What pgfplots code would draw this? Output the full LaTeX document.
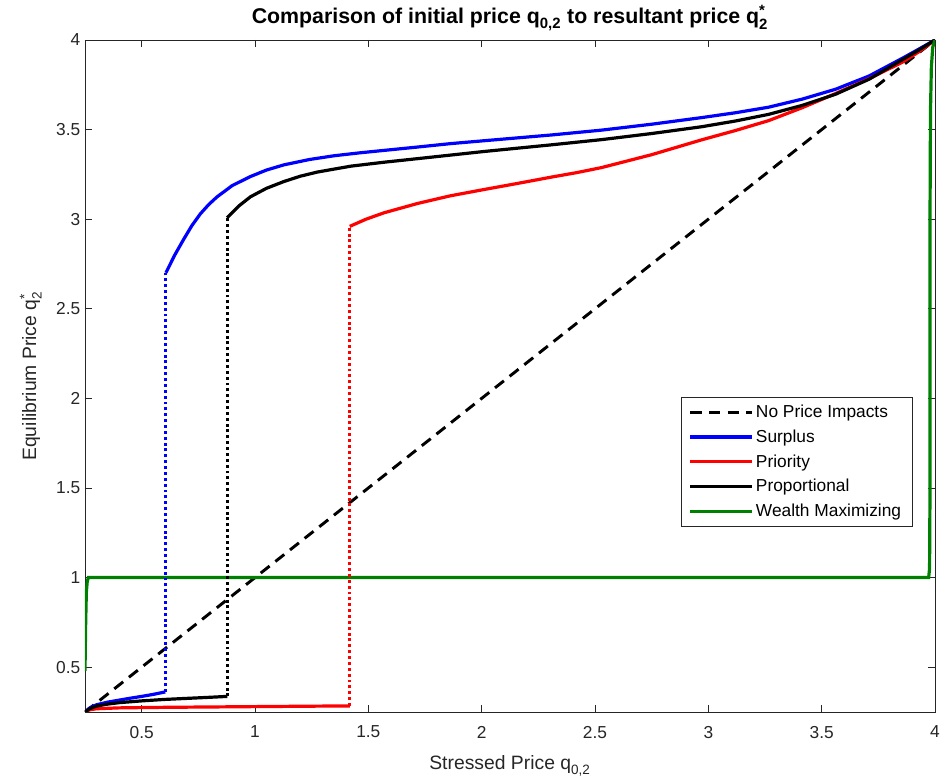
\documentclass[border=0pt]{standalone}
\usepackage{fontspec}
\setmainfont{Liberation Sans}
\usepackage{amsmath}
\usepackage{pgfplots}
\pgfplotsset{compat=1.18}
\definecolor{axgray}{rgb}{0.15,0.15,0.15}
\definecolor{mgreen}{rgb}{0,0.5,0}
\begin{document}
\begin{tikzpicture}
\path[use as bounding box] (-63.75pt,-54pt) rectangle (643.5pt,534pt);
\begin{axis}[
  scale only axis,
  width=637.5pt, height=504pt,
  xmin=0.25, xmax=4, ymin=0.25, ymax=4,
  xtick={0.5,1,1.5,2,2.5,3,3.5,4},
  ytick={0.5,1,1.5,2,2.5,3,3.5,4},
  xticklabels={0.5,1,1.5,2,2.5,3,3.5,4},
  yticklabels={0.5,1,1.5,2,2.5,3,3.5,4},
  tick align=inside,
  major tick length=5pt,
  axis line style={axgray, line width=0.6pt},
  every tick/.style={axgray, line width=0.6pt},
  tick label style={font=\fontsize{13}{15}\selectfont, text=axgray},
  xticklabel style={yshift=-7pt},
  /pgf/number format/assume math mode=true,
  title={\bfseries Comparison of initial price $\text{\bfseries q}_{\text{\bfseries 0,2}}$ to resultant price $\text{\bfseries q}^{\text{\bfseries *}}_{\text{\bfseries 2}}$},
  title style={font=\fontsize{16}{18}\selectfont, yshift=-3pt},
  xlabel={Stressed Price $\text{q}_{\text{0,2}}$},
  ylabel={Equilibrium Price $\text{q}^{\text{*}}_{\text{2}}$},
  label style={font=\fontsize{14.5}{17}\selectfont, text=axgray},
  xlabel style={yshift=-6pt},
  ylabel style={yshift=4pt},
  legend style={at={(0.973,0.469)}, anchor=north east, draw=axgray,
    font=\fontsize{13}{15}\selectfont, row sep=3.6pt, inner xsep=6pt, inner ysep=4pt,
    cells={anchor=west}},
  legend image code/.code={\draw[#1] (0pt,0pt) -- (46pt,0pt);},
]
% No price impacts
\addplot[black, line width=2.2pt, dash pattern=on 8.5pt off 5.5pt] coordinates {(0.25,0.25) (4,4)};
\addlegendentry{No Price Impacts}
% Surplus upper
\addplot[blue, line width=2.4pt] coordinates {
(0.607,2.701) (0.646,2.80) (0.685,2.887) (0.722,2.965) (0.759,3.030) (0.796,3.082) (0.833,3.125) (0.90,3.188) (0.980,3.238) (1.05,3.274) (1.127,3.303) (1.24,3.333) (1.349,3.354) (1.460,3.370) (1.570,3.384) (1.72,3.403) (1.865,3.422) (2.086,3.446) (2.308,3.470) (2.529,3.497) (2.75,3.530) (2.971,3.567) (3.12,3.594) (3.266,3.625) (3.414,3.670) (3.561,3.725) (3.709,3.799) (3.856,3.898) (3.93,3.95) (4,4)};
\addlegendentry{Surplus}
% Priority upper
\addplot[red, line width=2.4pt] coordinates {
(1.418,2.960) (1.49,3.000) (1.570,3.036) (1.718,3.088) (1.86,3.130) (2.012,3.166) (2.16,3.200) (2.308,3.235) (2.42,3.260) (2.529,3.288) (2.75,3.360) (2.971,3.443) (3.12,3.495) (3.266,3.550) (3.414,3.622) (3.561,3.701) (3.709,3.784) (3.856,3.876) (3.93,3.935) (4,4)};
\addlegendentry{Priority}
% Proportional upper
\addplot[black, line width=2.4pt] coordinates {
(0.877,3.008) (0.93,3.075) (0.980,3.125) (1.05,3.172) (1.127,3.210) (1.20,3.240) (1.275,3.263) (1.423,3.296) (1.57,3.318) (1.718,3.338) (2.012,3.378) (2.308,3.415) (2.529,3.444) (2.75,3.478) (2.971,3.516) (3.12,3.548) (3.266,3.585) (3.414,3.635) (3.561,3.697) (3.709,3.781) (3.856,3.890) (3.93,3.945) (4,4)};
\addlegendentry{Proportional}
% Wealth maximizing
\addplot[mgreen, line width=2.4pt] coordinates {
(0.25,0.48) (0.253,0.75) (0.256,0.92) (0.26,0.98) (0.265,1.0) (3.972,1.0) (3.976,1.05) (3.978,1.5) (3.978,3.0) (3.98,3.6) (3.984,3.85) (3.99,3.96) (4,4)};
\addlegendentry{Wealth Maximizing}
% lower branches
\addplot[blue, line width=2.4pt, forget plot] coordinates {
(0.25,0.25) (0.27,0.272) (0.30,0.290) (0.35,0.305) (0.40,0.316) (0.45,0.327) (0.50,0.337) (0.55,0.348) (0.604,0.362)};
\addplot[red, line width=2.4pt, forget plot] coordinates {
(0.25,0.25) (0.27,0.262) (0.30,0.268) (0.40,0.273) (0.60,0.276) (0.80,0.278) (1.0,0.280) (1.2,0.282) (1.418,0.284)};
\addplot[black, line width=2.4pt, forget plot] coordinates {
(0.25,0.25) (0.27,0.268) (0.30,0.283) (0.35,0.294) (0.40,0.302) (0.50,0.312) (0.60,0.320) (0.70,0.326) (0.80,0.332) (0.878,0.337)};
% dotted jumps
\addplot[blue, line width=2.4pt, dash pattern=on 2.2pt off 2.2pt, forget plot] coordinates {(0.605,0.362) (0.605,2.701)};
\addplot[black, line width=2.4pt, dash pattern=on 2.2pt off 2.2pt, forget plot] coordinates {(0.878,0.337) (0.878,3.008)};
\addplot[red, line width=2.4pt, dash pattern=on 2.2pt off 2.2pt, forget plot] coordinates {(1.418,0.284) (1.418,2.960)};
\end{axis}
\end{tikzpicture}
\end{document}
